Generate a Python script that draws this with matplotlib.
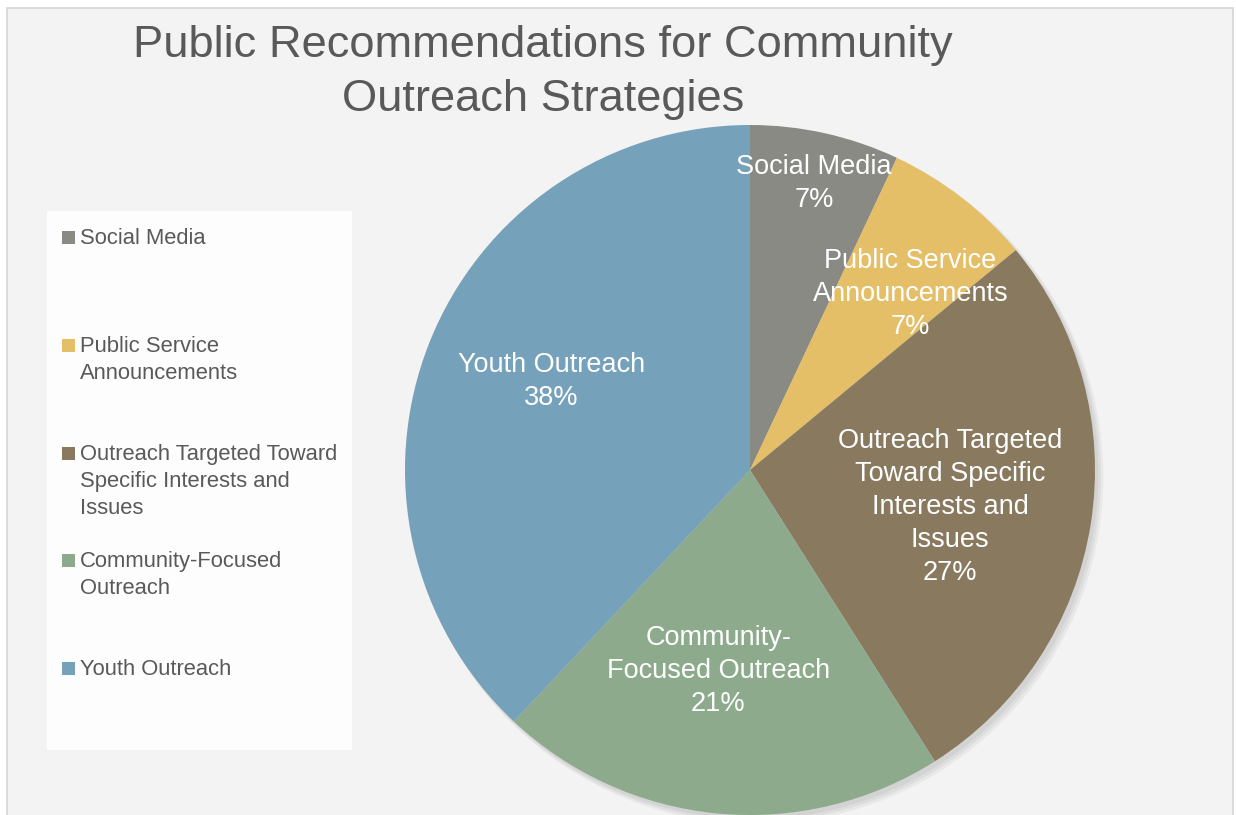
import numpy as np
import matplotlib
matplotlib.use("Agg")
import matplotlib.pyplot as plt
from matplotlib.patches import Rectangle, Circle

# ---- data ----
categories = ["Social Media", "Public Service Announcements",
              "Outreach Targeted Toward Specific Interests and Issues",
              "Community-Focused Outreach", "Youth Outreach"]
values = [7, 7, 27, 21, 38]
pie_labels = ["Social Media", "Public Service\nAnnouncements",
              "Outreach Targeted\nToward Specific\nInterests and\nIssues",
              "Community-\nFocused Outreach", "Youth Outreach"]
legend_labels = ["Social Media", "Public Service\nAnnouncements",
                 "Outreach Targeted Toward\nSpecific Interests and\nIssues",
                 "Community-Focused\nOutreach", "Youth Outreach"]
colors = ["#8a8a84", "#e5bf68", "#897a5f", "#8dab8c", "#76a1ba"]
title_lines = ["Public Recommendations for Community", "Outreach Strategies"]

# ---- style ----
label_radius = [0.85, 0.69, 0.59, 0.59, 0.63]
label_angle_nudge = [0.0, 4.6, 1.5, 3.6, 2.4]  # degrees, clockwise

W, H = 1236, 815
fig = plt.figure(figsize=(W / 100, H / 100), dpi=100, facecolor="white")

def fx(px):
    return px / W

def fy(py):
    return 1 - py / H

# chart area background
fig.patches.append(Rectangle((fx(7), fy(830)), fx(1226), (830 - 8) / H, transform=fig.transFigure,
                             facecolor="#f3f3f3", edgecolor="#d6d6d6", linewidth=1.2, zorder=-2))

# title
fig.text(fx(543), fy(57), title_lines[0], ha="center", va="baseline",
         fontsize=32.6, color="#595959", family="Liberation Sans")
fig.text(fx(543), fy(111), title_lines[1], ha="center", va="baseline",
         fontsize=32.6, color="#595959", family="Liberation Sans")

# legend box
fig.patches.append(Rectangle((fx(47), fy(750)), fx(305), 539 / H, transform=fig.transFigure,
                             facecolor="#fdfdfd", edgecolor="none", zorder=-1))
legend_baselines = [244, 352, 460, 567, 675]
line_step = 27
for lab, col, yb in zip(legend_labels, colors, legend_baselines):
    fig.patches.append(Rectangle((fx(62), fy(yb)), fx(13), 13 / H, transform=fig.transFigure,
                                 facecolor=col, edgecolor="none", zorder=2))
    for i, line in enumerate(lab.split("\n")):
        fig.text(fx(80), fy(yb + i * line_step), line, ha="left", va="baseline", fontsize=15.8,
                 color="#595959", family="Liberation Sans", zorder=3)

# pie
cx, cy, r = 750, 470, 345
ax = fig.add_axes([fx(cx - r), fy(cy + r), 2 * r / W, 2 * r / H])
ax.set_zorder(1)
ax.patch.set_visible(False)
# soft shadow
for k in range(3):
    ax.add_patch(Circle((0.010 + 0.004 * k, -0.012 - 0.004 * k), 1.0 + 0.003 * k,
                        facecolor="black", alpha=0.045, edgecolor="none", zorder=0,
                        clip_on=False))
wedges, _ = ax.pie(values, colors=colors, startangle=90, counterclock=False,
                   radius=1.0, wedgeprops=dict(linewidth=0, edgecolor="none"))
for w in wedges:
    w.set_zorder(1)
    w.set_clip_on(False)
ax.set_xlim(-1, 1)
ax.set_ylim(-1, 1)
ax.set_aspect("equal")
ax.axis("off")

total = sum(values)
for w, lab, v, rr, nud in zip(wedges, pie_labels, values, label_radius, label_angle_nudge):
    mid = 0.5 * (w.theta1 + w.theta2) - nud
    x = rr * np.cos(np.deg2rad(mid))
    y = rr * np.sin(np.deg2rad(mid))
    ax.text(x, y, f"{lab}\n{round(100 * v / total)}%", ha="center", va="center",
            fontsize=19.5, color="white", family="Liberation Sans", linespacing=1.36, zorder=3)

fig.savefig("out.png", dpi=100, facecolor=fig.get_facecolor())
